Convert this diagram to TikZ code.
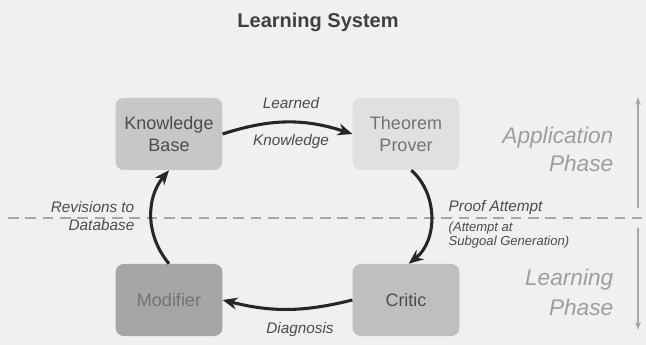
\documentclass[tikz,border=0pt]{standalone}
\usepackage{fontspec}
\setmainfont{Liberation Sans}
\usetikzlibrary{positioning,arrows.meta}

\begin{document}
\begin{tikzpicture}[x=0.75pt, y=-0.75pt]
    \tikzset{
        mynode/.style = {rectangle, rounded corners=6pt, minimum width=80pt, minimum height=54pt, text centered, align=center, font=\fontsize{13.5}{16}\selectfont},
        arrow/.style = {line width=2.3pt, draw=black!85, -{Stealth[length=11pt, width=9pt]}},
        lbl/.style = {font=\fontsize{11.5}{14}\selectfont\itshape, text=black!70},
        phase/.style = {font=\fontsize{17}{20}\selectfont\itshape, text=black!38, align=right, anchor=east},
        phasearrow/.style = {line width=0.8pt, draw=black!35, -{Stealth[length=6pt, width=4pt]}},
    }
    % page
    \fill[black!6] (0,0) rectangle (646,345);
    \useasboundingbox (0,0) rectangle (646,345);

    \node (title) at (318,22) [font=\fontsize{15}{18}\selectfont\bfseries, text=black!75] {Learning System};

    % the four stages
    \node (kbase) at (169,134) [mynode, fill=black!22, text=black!70] {Knowledge\\Base};
    \node (prover) at (406,134) [mynode, fill=black!12, text=black!55] {Theorem\\Prover};
    \node (modifier) at (169,300) [mynode, fill=black!35, text=black!55] {Modifier};
    \node (critic) at (406,300) [mynode, fill=black!25, text=black!70] {Critic};

    % phase split
    \coordinate (split_l) at (8,218);
    \coordinate (split_r) at (642,218);
    \draw [black!35, line width=0.8pt, dash pattern=on 8pt off 5pt] (split_l) -- (split_r);

    \coordinate (up_from) at (638,208);
    \coordinate (up_to) at (638,97);
    \coordinate (down_from) at (638,228);
    \coordinate (down_to) at (638,330);
    \draw [phasearrow] (up_from) -- (up_to);
    \draw [phasearrow] (down_from) -- (down_to);

    \node (app) at (618,138) [phase] {Application};
    \node (app2) at (618,163) [phase] {Phase};
    \node (learn) at (618,280) [phase] {Learning};
    \node (learn2) at (618,307) [phase] {Phase};

    % the cycle
    \draw [arrow] (kbase.east) to[bend left=18] (prover.west);
    \draw [arrow] ([xshift=4pt]prover.south) to[bend left=50] ([xshift=2pt]critic.north);
    \draw [arrow] (critic.west) to[bend left=14] (modifier.east);
    \draw [arrow] (modifier.north) to[bend left=40] (kbase.south);

    \node (learned) at (291,103) [lbl] {Learned};
    \node (knowl) at (291,142) [lbl] {Knowledge};
    \node (proof) at (444,208) [lbl, anchor=west] {Proof Attempt};
    \node (subgoal) at (444,235) [lbl, anchor=west, font=\fontsize{9.8}{11}\selectfont\itshape, align=left] {(Attempt at\\Subgoal Generation)};
    \node (diag) at (300,330) [lbl] {Diagnosis};
    \node (rev) at (139,216) [lbl, anchor=east, align=right] {Revisions to\\Database};
\end{tikzpicture}
\end{document}
